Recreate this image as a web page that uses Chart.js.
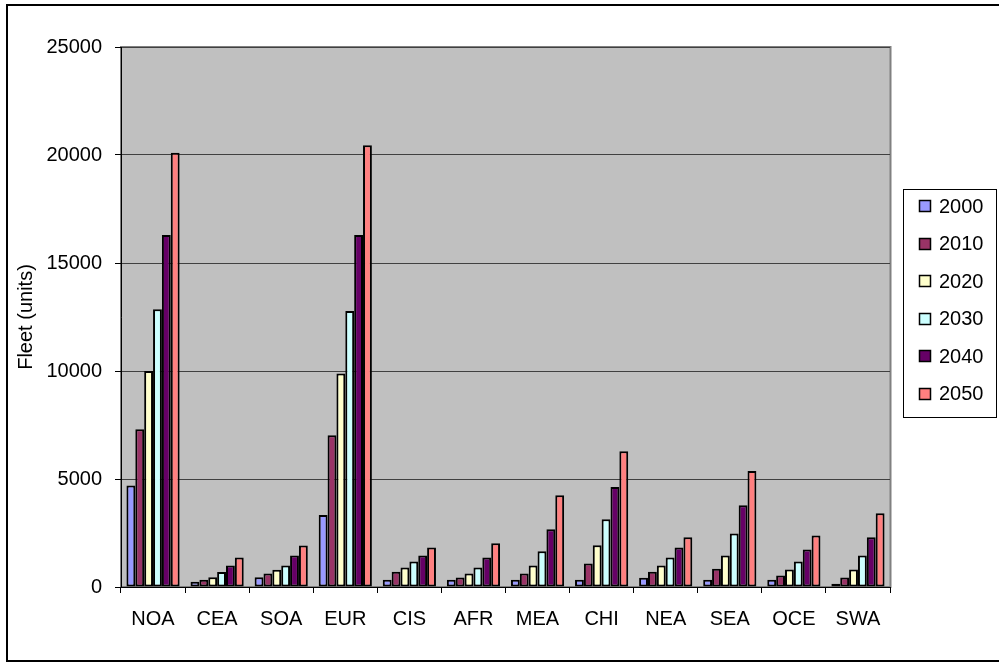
<!DOCTYPE html>
<html>
<head>
<meta charset="utf-8">
<script src="https://cdn.jsdelivr.net/npm/chart.js@4/dist/chart.umd.min.js"></script>
<style>
  html, body { margin: 0; padding: 0; background: #ffffff; }
  #wrap { width: 999px; height: 663px; }
</style>
</head>
<body>
<div id="wrap"><canvas id="c" width="999" height="663"></canvas></div>
<script>
// Regions
const regions = ['NOA', 'CEA', 'SOA', 'EUR', 'CIS', 'AFR', 'MEA', 'CHI', 'NEA', 'SEA', 'OCE', 'SWA'];

// Fleet size per region, one array per year
const fleet2000 = [4700, 240, 450, 3330, 340, 340, 340, 340, 430, 340, 340, 155];
const fleet2010 = [7300, 340, 630, 7020, 710, 435, 620, 1090, 710, 840, 530, 435];
const fleet2020 = [10000, 450, 800, 9880, 900, 620, 1000, 1930, 1000, 1460, 810, 810];
const fleet2030 = [12860, 700, 1000, 12780, 1180, 900, 1650, 3140, 1370, 2480, 1180, 1460];
const fleet2040 = [16300, 1000, 1460, 16300, 1460, 1370, 2670, 4630, 1830, 3790, 1740, 2300];
const fleet2050 = [20100, 1370, 1920, 20450, 1830, 2020, 4250, 6290, 2300, 5370, 2390, 3420];

const years = ['2000', '2010', '2020', '2030', '2040', '2050'];
const yTicks = [0, 5000, 10000, 15000, 20000, 25000];
const yTitle = 'Fleet (units)';

const seriesValues = [fleet2000, fleet2010, fleet2020, fleet2030, fleet2040, fleet2050];
const seriesColors = ['#9999FF', '#993366', '#FFFFCC', '#CCFFFF', '#660066', '#FF8080'];

const FONT = '"Liberation Sans", Arial, sans-serif';

// White page, black frame, grey plot area
const backdrop = {
  id: 'backdrop',
  beforeDraw(chart) {
    const ctx = chart.ctx;
    const a = chart.chartArea;
    ctx.save();
    ctx.fillStyle = '#ffffff';
    ctx.fillRect(0, 0, chart.width, chart.height);
    ctx.strokeStyle = '#000000';
    ctx.lineWidth = 2;
    ctx.strokeRect(7, 5, chart.width + 10, 656);
    ctx.fillStyle = '#C0C0C0';
    ctx.fillRect(a.left, a.top, a.right - a.left, a.bottom - a.top);
    ctx.strokeStyle = '#808080';
    ctx.lineWidth = 2;
    ctx.strokeRect(a.left, a.top, a.right - a.left + 0.5, a.bottom - a.top);
    ctx.restore();
  }
};

// Boxed legend at the right of the plot
const boxedLegend = {
  id: 'boxedLegend',
  afterDraw(chart) {
    const ctx = chart.ctx;
    const box = { x: 903.5, y: 189.5, w: 93, h: 228 };
    ctx.save();
    ctx.fillStyle = '#ffffff';
    ctx.fillRect(box.x, box.y, box.w, box.h);
    ctx.strokeStyle = '#000000';
    ctx.lineWidth = 1;
    ctx.strokeRect(box.x, box.y, box.w, box.h);
    ctx.font = '20px ' + FONT;
    ctx.textBaseline = 'middle';
    ctx.textAlign = 'left';
    chart.data.datasets.forEach((ds, i) => {
      const cy = 206 + i * 37.5;
      ctx.fillStyle = ds.backgroundColor;
      ctx.fillRect(919.5, Math.round(cy) - 5.5, 11, 11);
      ctx.strokeStyle = '#000000';
      ctx.lineWidth = 1.5;
      ctx.strokeRect(919.5, Math.round(cy) - 5.5, 11, 11);
      ctx.fillStyle = '#000000';
      ctx.fillText(ds.label, 939, cy + 1);
    });
    ctx.restore();
  }
};

const datasets = years.map((y, i) => ({
  label: y,
  data: seriesValues[i],
  backgroundColor: seriesColors[i],
  borderColor: '#000000',
  borderWidth: 2,
  borderSkipped: false,
  categoryPercentage: 0.83,
  barPercentage: 1.0
}));

new Chart(document.getElementById('c'), {
  type: 'bar',
  data: { labels: regions, datasets },
  plugins: [backdrop, boxedLegend],
  options: {
    responsive: false,
    animation: false,
    layout: { padding: { left: 14, top: 47, right: 109, bottom: 26 } },
    plugins: {
      legend: { display: false },
      tooltip: { enabled: false }
    },
    scales: {
      x: {
        offset: true,
        grid: {
          offset: true,
          drawOnChartArea: false,
          drawTicks: true,
          tickLength: 6,
          tickColor: '#000000'
        },
        border: { display: true, color: '#000000', width: 1 },
        ticks: {
          color: '#000000',
          font: { family: FONT, size: 20 },
          padding: 14,
          maxRotation: 0,
          autoSkip: false
        },
        afterFit(scale) { scale.height = 50; }
      },
      y: {
        min: 0,
        max: 25000,
        afterBuildTicks(scale) { scale.ticks = yTicks.map(v => ({ value: v })); },
        grid: {
          color: '#404040',
          lineWidth: 1,
          drawTicks: true,
          tickLength: 6,
          tickColor: '#000000'
        },
        border: { display: true, color: '#000000', width: 1 },
        ticks: {
          color: '#000000',
          font: { family: FONT, size: 20 },
          padding: 13,
          callback: (v) => String(v)
        },
        title: {
          display: true,
          text: yTitle,
          color: '#000000',
          font: { family: FONT, size: 20 },
          padding: { top: 0, bottom: 0 }
        },
        afterFit(scale) { scale.width = 107; }
      }
    }
  }
});
</script>
</body>
</html>
